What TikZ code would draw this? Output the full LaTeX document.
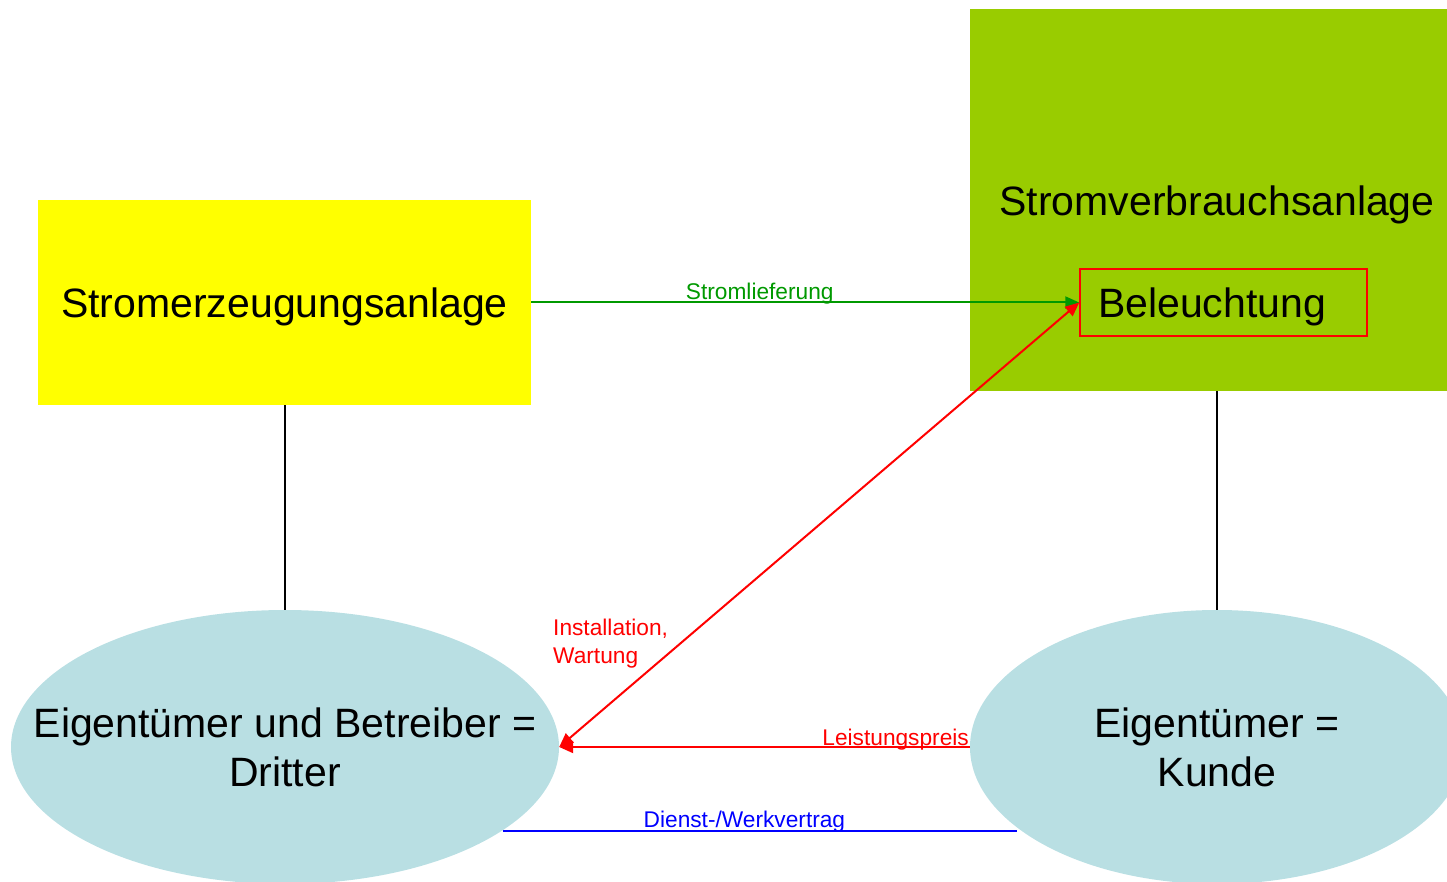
\documentclass[tikz,border=0pt]{standalone}
\usepackage{fontspec}
\setmainfont{Liberation Sans}
\usetikzlibrary{arrows.meta,shapes.geometric,calc}
\definecolor{yel}{HTML}{FFFF00}
\definecolor{lime}{HTML}{99CC00}
\definecolor{blob}{HTML}{B9DFE3}
\definecolor{dgreen}{HTML}{009900}
\definecolor{rred}{HTML}{FF0000}
\definecolor{bblue}{HTML}{0000FF}
\tikzset{
  bigtext/.style={font=\fontsize{41}{49}\selectfont, inner sep=0pt},
  smalltext/.style={font=\fontsize{22.7}{28}\selectfont, inner sep=0pt},
  plainbox/.style={rectangle, inner sep=0pt, draw=none},
  blobshape/.style={ellipse, fill=blob, draw=none, inner sep=0pt},
  tipA/.style={-{Triangle[length=14pt,width=12pt]}},
  tipB/.style={{Triangle[length=14pt,width=12pt]}-{Triangle[length=14pt,width=12pt]}},
}
\begin{document}
\begin{tikzpicture}[x=1pt,y=-1pt]
\useasboundingbox (0,0) rectangle (1447,882);
\clip (0,0) rectangle (1447,882);
% boxes
\node[plainbox, bigtext, fill=yel, minimum width=493pt, minimum height=205pt, text depth=0pt] (Y) at (284.5,302.5) {Stromerzeugungsanlage};
\node[plainbox, fill=lime, minimum width=480pt, minimum height=382pt] (G) at (1210,200) {};
\node[bigtext, text depth=0pt] (Gt) at (1217,201) {Stromverbrauchsanlage};
\node[bigtext, rectangle, draw=rred, line width=1.5pt, inner xsep=18pt, inner ysep=0pt, text width=251pt, align=left, minimum height=67pt, text depth=0pt] (B) at (1223.5,302.5) {Beleuchtung};
% ellipses
\node[blobshape, minimum width=548pt, minimum height=274pt] (L) at (285,747) {};
\node[bigtext, align=center, text depth=0pt] (Lt) at (L.center) {Eigentümer und Betreiber =\\Dritter};
\node[blobshape, minimum width=494pt, minimum height=274pt] (R) at (1217,747) {};
\node[bigtext, align=center, text depth=0pt] (Rt) at (R.center) {Eigentümer =\\Kunde};
% black connectors
\draw[line width=1.5pt] (L.north |- Y.south) -- (L.north);
\draw[line width=1.5pt] (R.north |- G.south) -- (R.north);
% green arrow
\draw[dgreen, line width=2pt, tipA] (Y.east) -- node[pos=0.417, anchor=base, yshift=3pt, smalltext, text=dgreen] (sl) {Stromlieferung} (B.west);
% red arrows
\draw[rred, line width=2pt, tipB] (B.west) -- (L.east);
\draw[rred, line width=2pt, tipA] (R.west) -- node[pos=0, anchor=base east, yshift=1.5pt, smalltext, text=rred] (lp) {Leistungspreis} (L.east);
\node[smalltext, text=rred, align=left, anchor=base west] (iw) at (553,663) {Installation,\\Wartung};
% blue line
\coordinate (b1) at (L.-21.2);
\coordinate (b2) at (b1 -| R.202.5);
\draw[bblue, line width=2pt] (b1) -- node[pos=0.47, anchor=base, yshift=3pt, smalltext, text=bblue] (dw) {Dienst-/Werkvertrag} (b2);
\end{tikzpicture}
\end{document}
